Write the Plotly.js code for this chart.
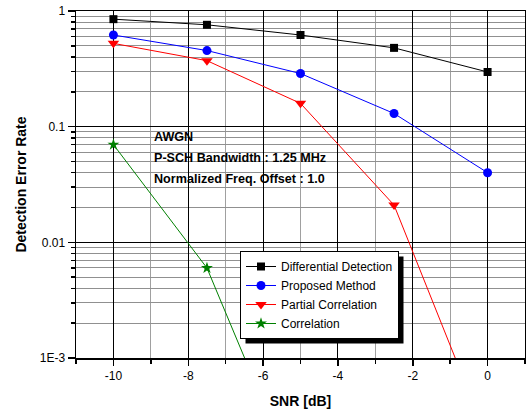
<!DOCTYPE html>
<html>
<head>
<meta charset="utf-8">
<script src="https://cdn.plot.ly/plotly-3.0.1.min.js"></script>
<style>
  html, body { margin: 0; padding: 0; background: #fff; }
  #chart { width: 526px; height: 414px; }
</style>
</head>
<body>
<div id="chart"></div>
<script>
// SNR sweep in dB
const snr = [-10, -7.5, -5, -2.5, 0];

// Detection error rate for each scheme
const differentialDetection = [0.85, 0.76, 0.62, 0.48, 0.297];
const proposedMethod = [0.62, 0.455, 0.288, 0.13, 0.040];
const partialCorrelation = [0.525, 0.372, 0.159, 0.021, 0.0002];
const correlation = [0.07, 0.006, 0.00007, null, null];

const seriesNames = ["Differential Detection", "Proposed Method", "Partial Correlation", "Correlation"];

// Axis tick labels
const yTickVals = [0.001, 0.01, 0.1, 1];
const yTickText = ["1E-3", "0.01", "0.1", "1"];
const xTickVals = [-10, -8, -6, -4, -2, 0];
const xTickText = ["-10", "-8", "-6", "-4", "-2", "0"];

const noteLines = ["AWGN", "P-SCH Bandwidth : 1.25 MHz", "Normalized Freq. Offset : 1.0"];

const font = "Liberation Sans, Arial, sans-serif";

function series(y, name, color, symbol, size) {
  return {
    x: snr, y: y, name: name, type: "scatter", mode: "lines+markers",
    line: { color: color, width: 1 },
    marker: { color: color, symbol: symbol, size: size, line: { width: 0 } },
    cliponaxis: true
  };
}

const data = [
  series(differentialDetection, seriesNames[0], "#000000", "square", 8),
  series(proposedMethod, seriesNames[1], "#0000ff", "circle", 9),
  series(partialCorrelation, seriesNames[2], "#ff0000", "triangle-down", 10),
  series(correlation, seriesNames[3], "#008000", "star", 9)
];

// plot area geometry in pixels
const W = 526, H = 414;
const m = { l: 76, r: 1, t: 11, b: 56 };
const pw = W - m.l - m.r, ph = H - m.t - m.b;
const px = v => (v - m.l) / pw;
const py = v => (H - m.b - v) / ph;

const shadow = 5;

const layout = {
  width: W, height: H,
  margin: m,
  paper_bgcolor: "#ffffff",
  plot_bgcolor: "#ffffff",
  showlegend: true,
  font: { family: font, size: 12, color: "#000" },
  xaxis: {
    range: [-11, 1],
    tickvals: xTickVals, ticktext: xTickText,
    ticks: "outside", ticklen: 6, tickwidth: 1.5, tickcolor: "#000",
    showline: true, linecolor: "#000", linewidth: 1.5, mirror: true,
    showgrid: true, gridcolor: "#000", gridwidth: 1,
    zeroline: false,
    minor: { dtick: 1, ticks: "outside", ticklen: 4, tickcolor: "#000", showgrid: true, gridcolor: "#a0a0a0", gridwidth: 1 },
    tickfont: { size: 12 },
    title: { text: "<b>SNR [dB]</b>", font: { size: 14 }, standoff: 14 }
  },
  yaxis: {
    type: "log",
    range: [-3, 0],
    tickvals: yTickVals, ticktext: yTickText,
    ticks: "outside", ticklen: 7, tickwidth: 1.5, tickcolor: "#000",
    showline: true, linecolor: "#000", linewidth: 1.5, mirror: true,
    showgrid: true, gridcolor: "#000", gridwidth: 1,
    zeroline: false,
    minor: { dtick: "D1", ticks: "outside", ticklen: 4, tickcolor: "#000", showgrid: true, gridcolor: "#909090", gridwidth: 1 },
    tickfont: { size: 12 },
    title: { text: "<b>Detection Error Rate</b>", font: { size: 14 }, standoff: 10 }
  },
  legend: {
    x: px(240), y: py(251), xanchor: "left", yanchor: "top",
    bgcolor: "#ffffff", bordercolor: "#000", borderwidth: 1,
    font: { size: 12 }, tracegroupgap: 0, itemwidth: 30
  },
  annotations: noteLines.map((t, i) => ({
    text: "<b>" + t + "</b>", xref: "paper", yref: "paper",
    x: px(152), y: py(137 + i * 21), xanchor: "left", yanchor: "middle",
    showarrow: false, font: { size: 12.6 }
  }))
};

const gd = document.getElementById("chart");
Plotly.newPlot(gd, data, layout, { displayModeBar: false, staticPlot: true }).then(() => {
  // drop shadow behind the legend box, sized from the rendered legend
  const bg = gd.querySelector(".legend .bg");
  if (!bg) return;
  const r = bg.getBoundingClientRect();
  const c = gd.getBoundingClientRect();
  const left = r.left - c.left, top = r.top - c.top;
  const right = left + r.width, bottom = top + r.height;
  return Plotly.relayout(gd, {
    shapes: [{
      type: "rect", xref: "paper", yref: "paper", layer: "above",
      x0: px(left + shadow), x1: px(right + shadow),
      y0: py(bottom + shadow), y1: py(top + shadow),
      fillcolor: "#000", line: { width: 0 }
    }]
  });
});
</script>
</body>
</html>
